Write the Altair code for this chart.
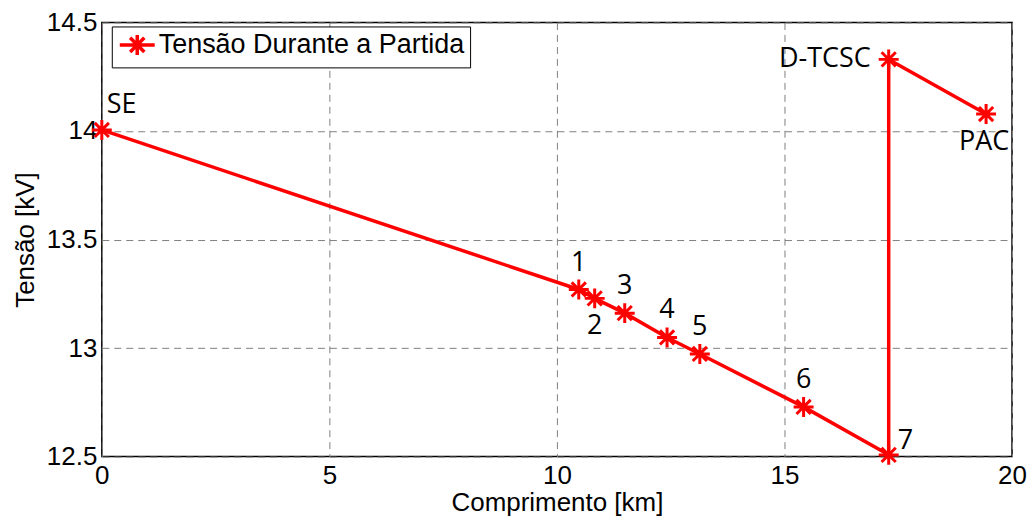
import altair as alt
import pandas as pd

# Dados
comprimento = [0.0, 10.48, 10.83, 11.49, 12.42, 13.14, 15.42, 17.29, 17.29, 19.43]
tensao = [14.005, 13.27, 13.229, 13.161, 13.049, 12.973, 12.729, 12.508, 14.33, 14.078]
rotulos = ["SE", "1", "2", "3", "4", "5", "6", "7", "D-TCSC", "PAC"]
serie = "Tensão Durante a Partida"
x_ticks = [0, 5, 10, 15, 20]
y_ticks = [12.5, 13, 13.5, 14, 14.5]

df = pd.DataFrame({
    "Comprimento": comprimento,
    "Tensao": tensao,
    "Rotulo": rotulos,
    "ordem": list(range(len(comprimento))),
    "Serie": [serie] * len(comprimento),
})

ASTER = "M-1,0L1,0M0,-1L0,1M-0.71,-0.71L0.71,0.71M-0.71,0.71L0.71,-0.71"
LEG = "M-1.75,0L1.75,0M0,-1L0,1M-0.71,-0.71L0.71,0.71M-0.71,0.71L0.71,-0.71"

xs = alt.X("Comprimento:Q",
           scale=alt.Scale(domain=[0, 20], nice=False, zero=False),
           axis=alt.Axis(values=x_ticks, title="Comprimento [km]", labelFlush=False,
                         labelOverlap=False, labelPadding=6, titleX=456, titleY=46,
                         titleBaseline="middle"))
ys = alt.Y("Tensao:Q",
           scale=alt.Scale(domain=[12.5, 14.5], nice=False, zero=False),
           axis=alt.Axis(values=y_ticks, title="Tensão [kV]", labelFlush=False,
                         labelOverlap=False, labelPadding=5, labelExpr="datum.value",
                         titleX=-76, titleY=217.5, titleBaseline="middle", titleAngle=-90))

base = alt.Chart(df)

line = base.mark_line(strokeWidth=3.5).encode(
    x=xs, y=ys, order=alt.Order("ordem:Q"),
    color=alt.Color("Serie:N", scale=alt.Scale(range=["#ff0000"]),
                    legend=alt.Legend(title=None, orient="none", legendX=10, legendY=4,
                                      symbolType=LEG, symbolSize=400, symbolStrokeWidth=3.5,
                                      symbolStrokeColor="#ff0000", symbolFillColor="transparent",
                                      symbolOffset=7, labelOffset=8,
                                      labelFont="Liberation Sans", labelFontSize=27,
                                      labelColor="black", strokeColor="black",
                                      fillColor="white", padding=5, labelLimit=500)),
)

pts = base.mark_point(shape=ASTER, size=400, stroke="#ff0000", strokeWidth=3,
                      filled=False, opacity=1).encode(x="Comprimento:Q", y="Tensao:Q")

def txt(names, **kw):
    return base.transform_filter(
        alt.FieldOneOfPredicate(field="Rotulo", oneOf=names)
    ).mark_text(font="Open Sans", fontSize=27, color="black", baseline="middle", **kw).encode(
        x="Comprimento:Q", y="Tensao:Q", text="Rotulo:N")

t_above = txt(["1", "3", "4", "5", "6"], align="center", dy=-27)
t_two = txt(["2"], align="center", dy=28)
t_se = txt(["SE"], align="left", dx=5, dy=-25)
t_seven = txt(["7"], align="left", dx=9, dy=-14)
t_dtcsc = txt(["D-TCSC"], align="right", dx=-18, dy=0)
t_pac = txt(["PAC"], align="center", dx=-2, dy=28)

chart = alt.layer(line, pts, t_above, t_two, t_se, t_seven, t_dtcsc, t_pac).properties(
    width=912, height=435,
    autosize=alt.AutoSizeParams(type="none"),
    padding={"left": 94, "top": 14, "right": 15, "bottom": 62},
).configure_view(stroke="black", strokeWidth=1.5).configure_axis(
    gridColor="#808080", gridDash=[7, 5], gridWidth=1, gridOpacity=1,
    domain=False, ticks=False,
    labelFont="Liberation Sans", labelFontSize=26, labelColor="black",
    titleFont="Liberation Sans", titleFontSize=26, titleColor="black", titleFontWeight="normal",
)

chart.save("out.html", embed_options={"renderer": "svg", "actions": False})
